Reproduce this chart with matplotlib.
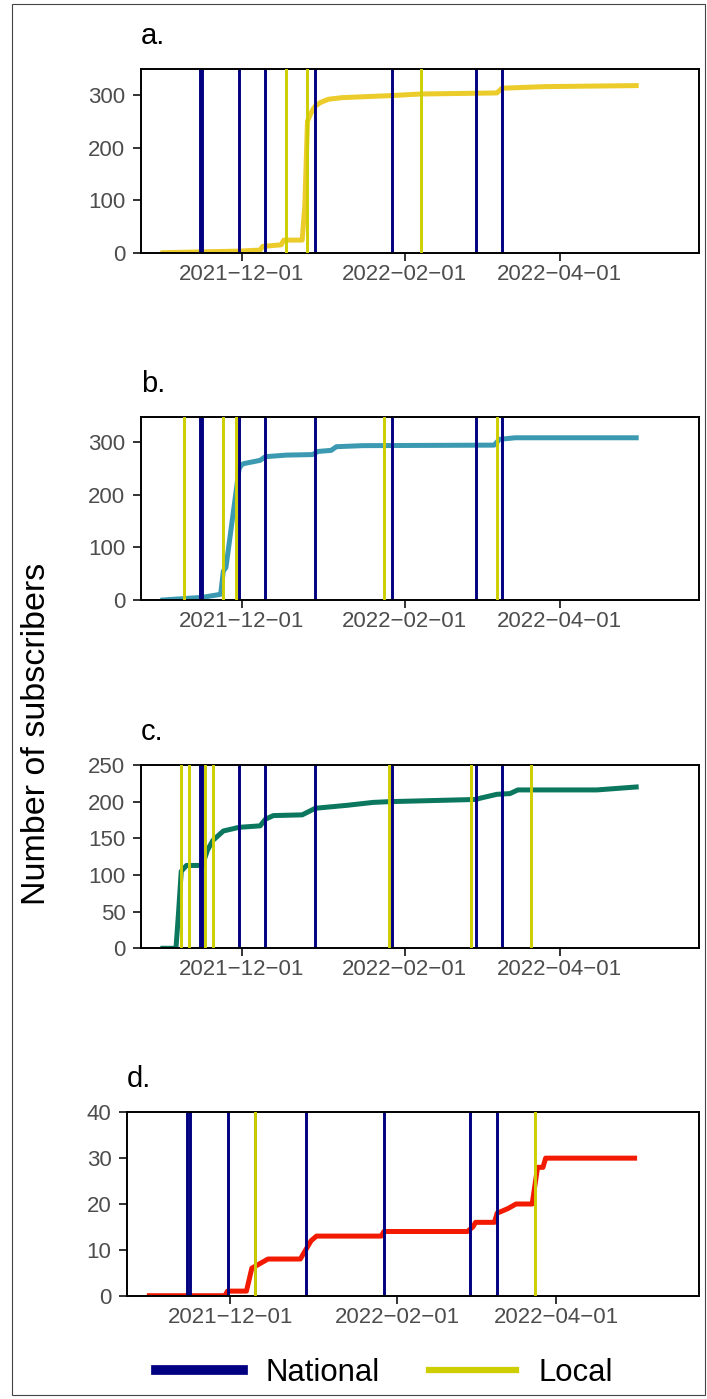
import numpy as np
import matplotlib
matplotlib.use('Agg')
import matplotlib.pyplot as plt
import matplotlib.dates as mdates
from matplotlib.ticker import FuncFormatter
from matplotlib.lines import Line2D
from matplotlib.patches import Rectangle

plt.rcParams['font.family'] = ['Liberation Sans', 'DejaVu Sans']

## dates of national / local events (same national set for every panel)
national_dates = ['2021-11-15', '2021-11-16', '2021-11-30', '2021-12-10',
                  '2021-12-29', '2022-01-27', '2022-02-28', '2022-03-10']
a_local = ['2021-12-18', '2021-12-26', '2022-02-07']
b_local = ['2021-11-09', '2021-11-24', '2021-11-29', '2022-01-24', '2022-03-08']
c_local = ['2021-11-08', '2021-11-11', '2021-11-17', '2021-11-20',
           '2022-01-26', '2022-02-26', '2022-03-21']
d_local = ['2021-12-10', '2022-03-24']

## cumulative subscribers
a_dates = ['2021-11-01', '2021-11-20', '2021-11-30', '2021-12-08', '2021-12-09',
           '2021-12-16', '2021-12-17', '2021-12-24', '2021-12-25', '2021-12-26',
           '2021-12-27', '2021-12-28', '2021-12-29', '2021-12-31', '2022-01-03',
           '2022-01-08', '2022-01-27', '2022-02-07', '2022-03-08', '2022-03-10',
           '2022-03-26', '2022-04-30']
a_subs = [0, 2, 3, 5, 12, 15, 24, 24, 90, 250, 262, 272, 279, 286, 292,
          295, 299, 302, 304, 313, 316, 318]

b_dates = ['2021-11-01', '2021-11-16', '2021-11-22', '2021-11-23', '2021-11-24',
           '2021-11-25', '2021-11-30', '2021-12-01', '2021-12-02', '2021-12-05',
           '2021-12-08', '2021-12-10', '2021-12-18', '2021-12-28', '2021-12-30',
           '2022-01-04', '2022-01-06', '2022-01-16', '2022-03-07', '2022-03-09',
           '2022-03-15', '2022-04-30']
b_subs = [0, 5, 10, 11, 55, 62, 250, 258, 260, 263, 266, 273, 276, 277, 283,
          285, 292, 294, 295, 306, 309, 309]

c_dates = ['2021-11-01', '2021-11-06', '2021-11-07', '2021-11-08', '2021-11-10',
           '2021-11-16', '2021-11-18', '2021-11-20', '2021-11-24', '2021-11-30',
           '2021-12-08', '2021-12-10', '2021-12-13', '2021-12-24', '2021-12-29',
           '2022-01-10', '2022-01-20', '2022-01-26', '2022-02-28', '2022-03-02',
           '2022-03-08', '2022-03-13', '2022-03-16', '2022-04-15', '2022-04-30']
c_subs = [0, 0, 50, 105, 113, 113, 134, 147, 160, 165, 167, 176, 181, 182, 191,
          195, 199, 200, 203, 205, 210, 211, 216, 216, 220]

d_dates = ['2021-11-01', '2021-11-29', '2021-11-30', '2021-12-07', '2021-12-09',
           '2021-12-12', '2021-12-15', '2021-12-27', '2021-12-28', '2021-12-31',
           '2022-01-02', '2022-01-26', '2022-01-27', '2022-02-27', '2022-03-01',
           '2022-03-02', '2022-03-09', '2022-03-10', '2022-03-14', '2022-03-17',
           '2022-03-23', '2022-03-25', '2022-03-27', '2022-03-28', '2022-04-30']
d_subs = [0, 0, 1, 1, 6, 7, 8, 8, 9, 12, 13, 13, 14, 14, 15, 16, 16, 18, 19,
          20, 20, 28, 28, 30, 30]

x_ticks = ['2021-12-01', '2022-02-01', '2022-04-01']

panels = [
    ('a.', a_dates, a_subs, a_local, '#EBCC2A', 349, [0, 100, 200, 300]),
    ('b.', b_dates, b_subs, b_local, '#3B9AB2', 348, [0, 100, 200, 300]),
    ('c.', c_dates, c_subs, c_local, '#0B775E', 250, [0, 50, 100, 150, 200, 250]),
    ('d.', d_dates, d_subs, d_local, '#F21A00', 40, [0, 10, 20, 30, 40]),
]

W, H = 707, 1399
## axes boxes in pixels: left, top, right, bottom
boxes = [(140.7, 69.3, 699.3, 252.7),
         (140.7, 417.3, 699.3, 600.0),
         (140.7, 765.0, 699.3, 948.3),
         (126.7, 1112.3, 699.3, 1295.7)]

NAT_COL = '#000080'
LOC_COL = '#CDCD00'

fig = plt.figure(figsize=(W / 100, H / 100), dpi=100)
fig.patch.set_facecolor('white')

xlim = (np.datetime64('2021-10-23T14:00'), np.datetime64('2022-05-24T00:00'))

def date_fmt(x, pos):
    return mdates.num2date(x).strftime('%Y-%m-%d').replace('-', '\u2212')

for (tag, dts, subs, loc, col, ymax, yt), (l, t, r, b) in zip(panels, boxes):
    ax = fig.add_axes([l / W, 1 - b / H, (r - l) / W, (b - t) / H])
    ax.plot(np.array(dts, dtype='datetime64[D]'), subs, color=col, lw=3.6,
            solid_joinstyle='round', zorder=1)
    for d in national_dates:
        ax.axvline(np.datetime64(d), color=NAT_COL, lw=2.1, zorder=2)
    for d in loc:
        ax.axvline(np.datetime64(d), color=LOC_COL, lw=2.1, zorder=3)
    ax.set_xlim(*xlim)
    ax.set_ylim(0, ymax)
    ax.set_yticks(yt)
    ax.set_xticks(np.array(x_ticks, dtype='datetime64[D]'))
    ax.xaxis.set_major_formatter(FuncFormatter(date_fmt))
    for s in ax.spines.values():
        s.set_linewidth(1.4)
        s.set_color('black')
    ax.tick_params(length=6, width=1.4, color='#333333', labelcolor='#4D4D4D',
                   labelsize=16)
    ax.tick_params(axis='y', pad=5)
    ax.tick_params(axis='x', pad=2)
    fig.text(l / W, 1 - (t - 25) / H, tag, fontsize=21, ha='left', va='baseline')

fig.text(37 / W, 1 - 734 / H, 'Number of subscribers', rotation=90,
         fontsize=24.5, ha='center', va='center')

handles = [Line2D([], [], color=NAT_COL, lw=7),
           Line2D([], [], color=LOC_COL, lw=4.5)]
fig.legend(handles, ['National', 'Local'], loc='center', ncol=2, frameon=False,
           fontsize=22.4, handlelength=2.8, handletextpad=0.7, columnspacing=1.6,
           bbox_to_anchor=(384.5 / W, 1 - 1373 / H))

fig.patches.append(Rectangle((12 / W, 4 / H), (705 - 12) / W, (1395 - 4) / H,
                             transform=fig.transFigure, fill=False,
                             edgecolor='#444444', lw=0.8))

fig.savefig('out.png', dpi=100)
